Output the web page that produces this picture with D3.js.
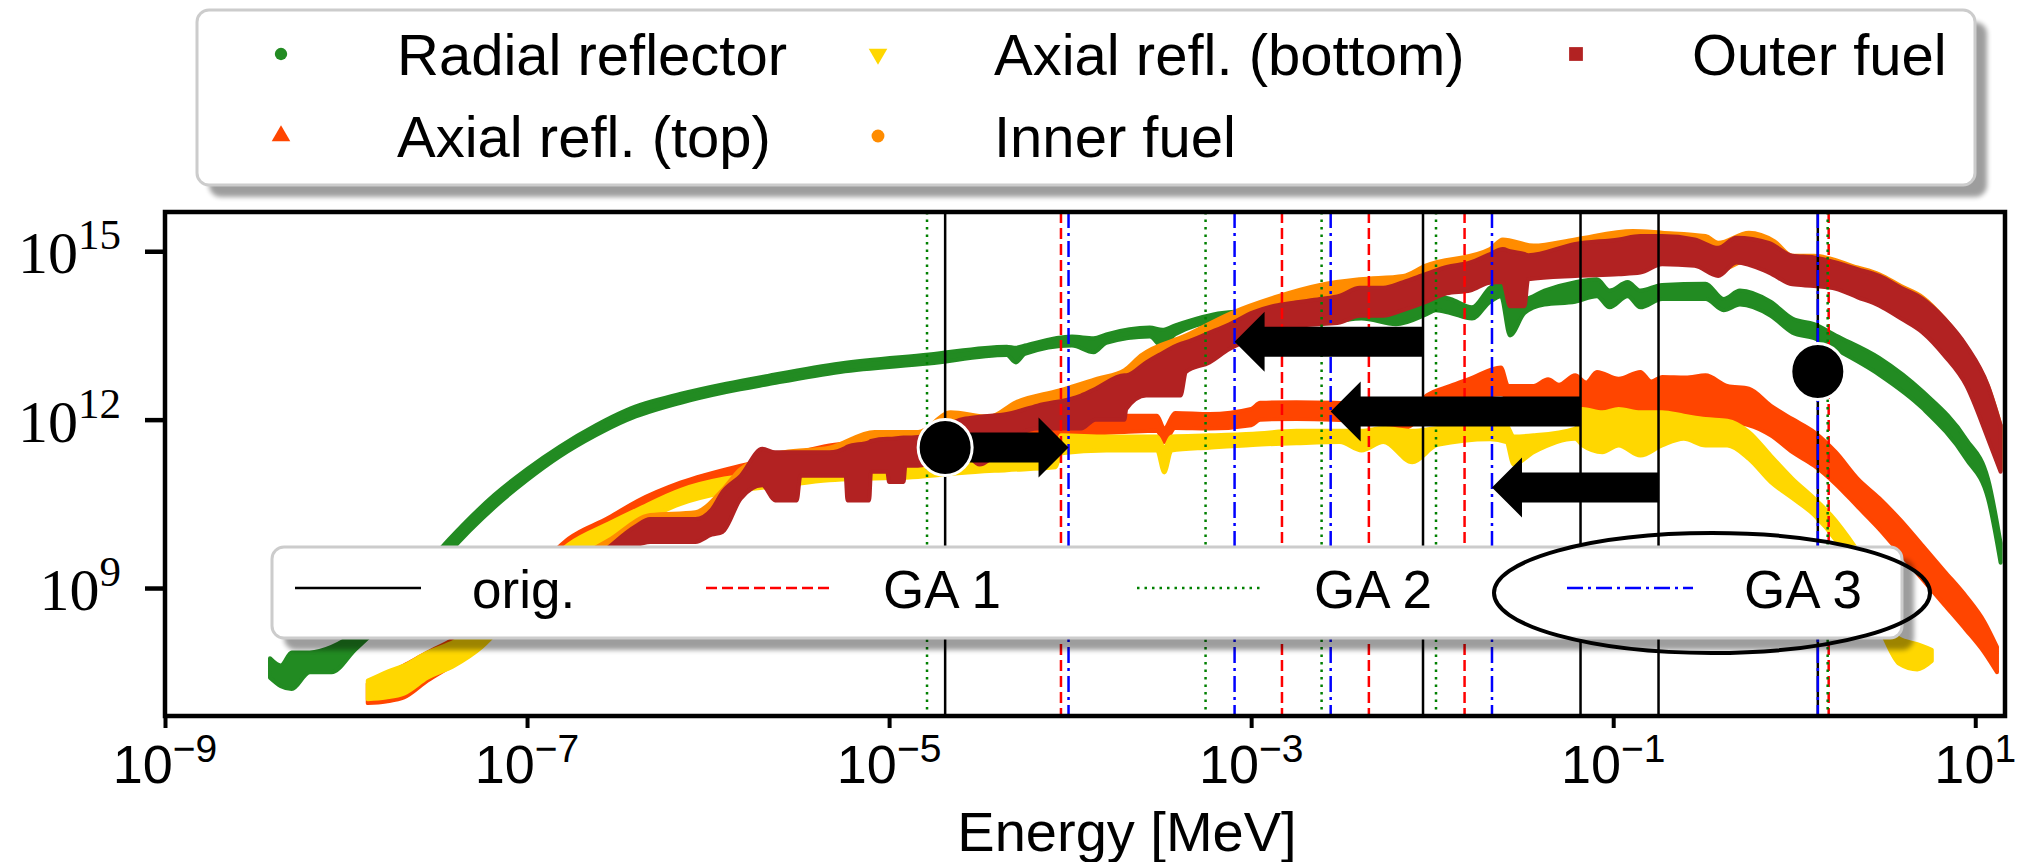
<!DOCTYPE html>
<html>
<head>
<meta charset="utf-8">
<script src="https://cdn.jsdelivr.net/npm/d3@7"></script>
<style>
  html, body { margin: 0; padding: 0; background: #ffffff; }
  svg { display: block; }
</style>
</head>
<body>
<svg id="chart" width="2040" height="862"></svg>
<script>
// ---------------- DATA ----------------
// Each series: [log10(E / MeV), log10(upper flux), log10(lower flux)] — the envelope of the dense scatter band
const radialReflector = [
  [-8.42, 7.75, 7.40], [-8.36, 7.62, 7.25], [-8.30, 7.85, 7.20], [-8.20, 7.85, 7.50],
  [-8.08, 7.95, 7.50], [-7.95, 8.20, 7.90], [-7.80, 8.65, 8.35], [-7.60, 9.25, 8.95],
  [-7.43, 9.87, 9.63], [-7.18, 10.66, 10.44], [-7.00, 11.12, 10.92], [-6.82, 11.52, 11.34],
  [-6.62, 11.90, 11.72], [-6.45, 12.17, 11.99], [-6.15, 12.46, 12.30], [-5.90, 12.64, 12.49],
  [-5.67, 12.78, 12.63], [-5.27, 13.00, 12.85], [-4.78, 13.16, 13.00], [-4.35, 13.30, 13.15],
  [-4.30, 13.28, 13.02], [-4.25, 13.32, 13.17], [-3.99, 13.48, 13.32], [-3.87, 13.45, 13.20],
  [-3.80, 13.52, 13.37], [-3.56, 13.64, 13.48], [-3.49, 13.60, 13.30], [-3.42, 13.68, 13.52],
  [-3.16, 13.90, 13.75], [-2.90, 13.95, 13.75], [-2.56, 13.98, 13.75], [-2.39, 14.00, 13.80],
  [-2.20, 13.98, 13.70], [-2.03, 14.12, 13.88], [-1.98, 14.20, 13.95], [-1.90, 14.15, 13.90],
  [-1.78, 14.00, 13.80], [-1.68, 14.35, 14.10], [-1.62, 14.45, 14.20], [-1.57, 14.30, 13.50],
  [-1.49, 14.15, 13.90], [-1.38, 14.30, 14.05], [-1.21, 14.45, 14.10], [-1.09, 14.50, 14.20],
  [-1.02, 14.30, 14.00], [-0.92, 14.45, 14.20], [-0.85, 14.30, 14.00], [-0.73, 14.40, 14.15],
  [-0.49, 14.42, 14.15], [-0.39, 14.15, 13.95], [-0.30, 14.30, 14.05], [-0.13, 14.10, 13.85],
  [-0.01, 13.80, 13.55], [0.11, 13.70, 13.45], [0.23, 13.50, 13.25], [0.47, 13.10, 12.80],
  [0.71, 12.50, 12.20], [0.95, 11.65, 11.30], [1.07, 10.95, 10.60], [1.14, 9.80, 9.45]
];
const axialTop = [
  [-7.88, 7.30, 6.95], [-7.78, 7.45, 6.98], [-7.68, 7.62, 7.05], [-7.55, 7.85, 7.35],
  [-7.40, 8.10, 7.65], [-7.25, 8.45, 8.00], [-7.10, 8.90, 8.50], [-6.90, 9.50, 9.15],
  [-6.77, 9.88, 9.58], [-6.55, 10.25, 9.98], [-6.39, 10.55, 10.28], [-6.15, 10.88, 10.58],
  [-5.82, 11.18, 10.85], [-5.58, 11.35, 11.00], [-5.33, 11.54, 11.20], [-5.08, 11.62, 11.30],
  [-4.84, 11.72, 11.40], [-4.60, 11.80, 11.50], [-4.35, 11.86, 11.58], [-4.08, 11.92, 11.62],
  [-4.05, 12.07, 11.75], [-3.94, 12.04, 11.75], [-3.70, 12.07, 11.78], [-3.52, 12.07, 11.80],
  [-3.48, 11.84, 11.60], [-3.42, 12.12, 11.85], [-3.23, 12.10, 11.84], [-3.00, 12.19, 11.90],
  [-2.95, 12.30, 12.00], [-2.75, 12.31, 12.01], [-2.55, 12.30, 12.00], [-2.30, 12.25, 11.95],
  [-2.16, 12.00, 11.84], [-2.03, 12.43, 12.13], [-1.90, 12.60, 12.30], [-1.79, 12.73, 12.37],
  [-1.62, 12.93, 12.45], [-1.58, 12.60, 12.40], [-1.44, 12.60, 12.30], [-1.36, 12.72, 12.28],
  [-1.30, 12.62, 12.25], [-1.21, 12.79, 12.20], [-1.15, 12.66, 12.18], [-1.09, 12.85, 12.13],
  [-0.97, 12.73, 12.13], [-0.85, 12.85, 12.13], [-0.79, 12.68, 12.13], [-0.73, 12.76, 12.13],
  [-0.60, 12.75, 12.10], [-0.49, 12.79, 12.01], [-0.37, 12.60, 11.95], [-0.25, 12.55, 11.90],
  [-0.13, 12.25, 11.72], [-0.01, 12.01, 11.42], [0.11, 11.78, 11.18], [0.23, 11.42, 10.85],
  [0.35, 10.95, 10.45], [0.47, 10.60, 10.05], [0.59, 10.20, 9.60], [0.71, 9.75, 9.15],
  [0.83, 9.30, 8.70], [0.95, 8.85, 8.25], [1.05, 8.40, 7.85], [1.12, 7.95, 7.50]
];
const axialBottom = [
  [-7.88, 7.35, 7.02], [-7.78, 7.50, 7.05], [-7.68, 7.62, 7.12], [-7.55, 7.85, 7.40],
  [-7.40, 8.05, 7.62], [-7.25, 8.38, 7.95], [-7.10, 8.82, 8.45], [-6.90, 9.42, 9.10],
  [-6.77, 9.78, 9.50], [-6.55, 10.15, 9.90], [-6.39, 10.40, 10.15], [-6.15, 10.75, 10.50],
  [-5.91, 10.95, 10.70], [-5.60, 11.05, 10.82], [-5.33, 11.15, 10.92], [-5.08, 11.20, 10.95],
  [-4.84, 11.22, 10.98], [-4.60, 11.28, 11.05], [-4.35, 11.35, 11.10], [-4.08, 11.40, 11.15],
  [-4.05, 11.72, 11.40], [-3.80, 11.70, 11.45], [-3.52, 11.70, 11.45], [-3.48, 11.50, 11.06],
  [-3.44, 11.70, 11.45], [-3.23, 11.72, 11.50], [-2.99, 11.75, 11.55], [-2.75, 11.80, 11.58],
  [-2.51, 11.80, 11.60], [-2.39, 11.80, 11.45], [-2.27, 11.85, 11.60], [-2.11, 11.80, 11.24],
  [-1.97, 11.85, 11.55], [-1.68, 11.90, 11.65], [-1.59, 11.90, 11.60], [-1.55, 11.70, 11.20],
  [-1.44, 11.72, 11.42], [-1.21, 11.84, 11.66], [-1.17, 12.19, 11.54], [-1.06, 12.13, 11.42],
  [-0.97, 12.19, 11.54], [-0.85, 12.13, 11.36], [-0.73, 12.13, 11.54], [-0.61, 12.07, 11.66],
  [-0.49, 12.01, 11.54], [-0.37, 11.98, 11.54], [-0.25, 11.78, 11.30], [-0.13, 11.36, 10.89],
  [-0.01, 10.95, 10.60], [0.11, 10.60, 10.30], [0.23, 10.20, 9.85], [0.30, 9.90, 9.50],
  [0.40, 9.40, 8.90], [0.50, 8.65, 8.10], [0.58, 8.10, 7.65], [0.68, 8.00, 7.55],
  [0.76, 7.90, 7.70]
];
const innerFuel = [
  [-7.10, 8.85, 8.45], [-6.80, 9.40, 9.05], [-6.55, 9.85, 9.50], [-6.32, 10.30, 9.95],
  [-6.07, 10.35, 10.00], [-5.92, 10.75, 10.35], [-5.82, 11.12, 10.70], [-5.58, 11.42, 11.00],
  [-5.33, 11.50, 11.10], [-5.08, 11.78, 11.30], [-4.84, 11.78, 11.35], [-4.66, 12.13, 11.70],
  [-4.45, 12.05, 11.65], [-4.30, 12.31, 11.90], [-4.06, 12.52, 12.10], [-3.85, 12.73, 12.30],
  [-3.70, 12.88, 12.45], [-3.61, 13.14, 12.70], [-3.36, 13.50, 13.05], [-3.11, 13.90, 13.45],
  [-2.87, 14.18, 13.70], [-2.62, 14.40, 13.90], [-2.40, 14.50, 14.00], [-2.16, 14.56, 14.05],
  [-2.04, 14.74, 14.25], [-1.68, 15.04, 14.55], [-1.61, 15.21, 14.70], [-1.44, 15.10, 14.60],
  [-1.21, 15.21, 14.70], [-0.89, 15.36, 14.80], [-0.73, 15.33, 14.85], [-0.49, 15.27, 14.80],
  [-0.42, 15.15, 14.65], [-0.25, 15.33, 14.85], [-0.11, 15.18, 14.70], [-0.01, 14.92, 14.45],
  [0.11, 14.92, 14.45], [0.35, 14.71, 14.20], [0.47, 14.59, 14.05], [0.59, 14.38, 13.85],
  [0.71, 14.18, 13.60], [0.83, 13.80, 13.20], [0.95, 13.30, 12.65], [1.07, 12.60, 11.70],
  [1.14, 11.90, 11.10]
];
const outerFuel = [
  [-7.00, 8.90, 8.50], [-6.60, 9.60, 9.20], [-6.40, 10.10, 9.75], [-6.32, 10.23, 9.82],
  [-6.07, 10.23, 9.82], [-5.98, 10.40, 9.95], [-5.92, 10.71, 10.00], [-5.82, 11.00, 10.59],
  [-5.70, 11.48, 10.83], [-5.63, 11.42, 10.56], [-5.51, 11.42, 10.56], [-5.49, 11.42, 11.00],
  [-5.33, 11.42, 11.00], [-5.24, 11.50, 11.00], [-5.23, 11.52, 10.56], [-5.11, 11.60, 10.56],
  [-5.10, 11.62, 11.07], [-5.01, 11.66, 11.07], [-5.00, 11.66, 10.89], [-4.92, 11.68, 10.89],
  [-4.91, 11.68, 11.18], [-4.84, 11.69, 11.18], [-4.59, 12.01, 11.42], [-4.50, 12.05, 11.20],
  [-4.35, 12.10, 11.60], [-4.18, 12.25, 11.84], [-3.94, 12.43, 11.84], [-3.86, 12.55, 12.00],
  [-3.70, 12.79, 12.00], [-3.69, 12.79, 12.19], [-3.58, 13.02, 12.43], [-3.51, 13.15, 12.43],
  [-3.39, 13.35, 12.43], [-3.36, 13.38, 12.85], [-3.23, 13.55, 13.02], [-3.12, 13.70, 13.26],
  [-2.99, 13.91, 13.44], [-2.87, 14.03, 13.55], [-2.75, 14.09, 13.67], [-2.62, 14.15, 13.70],
  [-2.51, 14.21, 13.73], [-2.40, 14.35, 13.85], [-2.27, 14.35, 13.85], [-2.16, 14.45, 13.95],
  [-2.03, 14.60, 14.10], [-1.92, 14.72, 14.25], [-1.79, 14.80, 14.30], [-1.68, 14.95, 14.44],
  [-1.61, 15.04, 14.45], [-1.57, 15.00, 14.02], [-1.49, 14.95, 14.02], [-1.47, 14.93, 14.50],
  [-1.21, 15.13, 14.56], [-0.97, 15.21, 14.59], [-0.85, 15.27, 14.62], [-0.73, 15.27, 14.77],
  [-0.55, 15.21, 14.74], [-0.42, 15.06, 14.56], [-0.32, 15.24, 14.80], [-0.14, 15.15, 14.62],
  [-0.01, 14.92, 14.41], [0.11, 14.89, 14.38], [0.23, 14.80, 14.33], [0.35, 14.68, 14.18],
  [0.47, 14.56, 14.03], [0.59, 14.35, 13.80], [0.71, 14.15, 13.55], [0.83, 13.80, 13.14],
  [0.95, 13.32, 12.61], [1.07, 12.61, 11.66], [1.14, 11.90, 11.07]
];

const seriesNames  = ["Radial reflector", "Axial refl. (top)", "Axial refl. (bottom)", "Inner fuel", "Outer fuel"];
const seriesColors = ["#228b22", "#ff4500", "#ffd700", "#ff8c00", "#b22222"];
const seriesData   = [radialReflector, axialTop, axialBottom, innerFuel, outerFuel];

// group boundaries (MeV)
const origBounds = [2.04e-5, 8.9e-3, 6.6e-2, 1.78e-1, 1.35];
const ga1Bounds  = [8.9e-5, 1.48e-3, 4.47e-3, 1.51e-2, 1.55];
const ga2Bounds  = [1.62e-5, 5.6e-4, 2.45e-3, 1.05e-2, 1.53];
const ga3Bounds  = [9.8e-5, 8.1e-4, 2.75e-3, 2.14e-2, 1.35];
const boundNames = ["orig.", "GA 1", "GA 2", "GA 3"];

// annotation arrows: orig boundary -> GA 3 boundary, at a flux level
const arrowFrom = [2.04e-5, 8.9e-3, 6.6e-2, 1.78e-1];
const arrowTo   = [9.8e-5, 8.1e-4, 2.75e-3, 2.14e-2];
const arrowFlux = [3.2e11, 2.45e13, 1.4e12, 6.2e10];
const circleE    = [2.04e-5, 1.35];
const circleFlux = [3.2e11, 7.2e12];

const xTicks = [1e-9, 1e-7, 1e-5, 1e-3, 1e-1, 1e1];
const yTicks = [1e9, 1e12, 1e15];
const xDomain = [1e-9, 14.6];
const yDomain = [5.25e6, 5.0e15];

// ---------------- LAYOUT ----------------
const plot = { left: 165, right: 2005, top: 212, bottom: 716 };
const svg = d3.select("#chart");
const sans = "'Liberation Sans', Arial, sans-serif";
const serif = "'Liberation Serif', 'Times New Roman', serif";

const x = d3.scaleLog().domain(xDomain).range([plot.left, plot.right]);
const y = d3.scaleLog().domain(yDomain).range([plot.bottom, plot.top]);

const defs = svg.append("defs");
defs.append("clipPath").attr("id", "plotClip").append("rect")
  .attr("x", plot.left).attr("y", plot.top)
  .attr("width", plot.right - plot.left).attr("height", plot.bottom - plot.top);
const f = defs.append("filter").attr("id", "shadowBlur")
  .attr("x", "-5%").attr("y", "-20%").attr("width", "110%").attr("height", "140%");
f.append("feGaussianBlur").attr("stdDeviation", 2.5);

// ---------------- DATA BANDS ----------------
const gData = svg.append("g").attr("clip-path", "url(#plotClip)");
const band = d3.area()
  .curve(d3.curveMonotoneX)
  .x(d => x(Math.pow(10, d[0])))
  .y0(d => y(Math.pow(10, d[2])))
  .y1(d => y(Math.pow(10, d[1])));

seriesData.forEach((data, i) => {
  gData.append("path")
    .attr("d", band(data))
    .attr("fill", seriesColors[i])
    .attr("stroke", seriesColors[i])
    .attr("stroke-width", 4)
    .attr("stroke-linejoin", "round");
});

// ---------------- VERTICAL BOUNDARY LINES ----------------
const lineStyles = [
  { color: "#000000", dash: null },
  { color: "#ff0000", dash: "11,5" },
  { color: "#008000", dash: "2.5,5" },
  { color: "#0000ff", dash: "16,5,3,5" }
];
const boundSets = [origBounds, ga1Bounds, ga2Bounds, ga3Bounds];
const gLines = svg.append("g");
boundSets.forEach((set, i) => {
  gLines.selectAll(null).data(set).enter().append("line")
    .attr("x1", d => x(d)).attr("x2", d => x(d))
    .attr("y1", plot.top).attr("y2", plot.bottom)
    .attr("stroke", lineStyles[i].color)
    .attr("stroke-width", 2.5)
    .attr("stroke-dasharray", lineStyles[i].dash);
});

// ---------------- AXES ----------------
const xAxis = d3.axisBottom(x).tickValues(xTicks).tickSize(12).tickFormat("");
const gx = svg.append("g").attr("transform", `translate(0,${plot.bottom})`).call(xAxis);
gx.select(".domain").remove();
gx.selectAll(".tick line").attr("stroke", "#000").attr("stroke-width", 4);

const yAxis = d3.axisLeft(y).tickValues(yTicks).tickSize(20).tickFormat("");
const gy = svg.append("g").attr("transform", `translate(${plot.left},0)`).call(yAxis);
gy.select(".domain").remove();
gy.selectAll(".tick line").attr("stroke", "#000").attr("stroke-width", 4.5);

// tick labels with superscripts
xTicks.forEach(v => {
  const t = svg.append("text")
    .attr("x", x(v)).attr("y", 783)
    .attr("text-anchor", "middle")
    .attr("font-family", sans).attr("font-size", 54).attr("fill", "#000");
  t.append("tspan").text("10");
  t.append("tspan").attr("dy", -21).attr("font-size", 39)
    .text(String(Math.round(Math.log10(v))).replace("-", "\u2212"));
});
yTicks.forEach(v => {
  const t = svg.append("text")
    .attr("x", 121).attr("y", y(v) + 22)
    .attr("text-anchor", "end")
    .attr("font-family", serif).attr("font-size", 60).attr("fill", "#000");
  t.append("tspan").text("10");
  t.append("tspan").attr("dy", -24).attr("font-size", 43)
    .text(String(Math.round(Math.log10(v))));
});

svg.append("text")
  .attr("x", 1127).attr("y", 851)
  .attr("text-anchor", "middle")
  .attr("font-family", sans).attr("font-size", 56).attr("fill", "#000")
  .text("Energy [MeV]");

// frame
svg.append("rect")
  .attr("x", plot.left).attr("y", plot.top)
  .attr("width", plot.right - plot.left).attr("height", plot.bottom - plot.top)
  .attr("fill", "none").attr("stroke", "#000").attr("stroke-width", 4.5);

// ---------------- LEGENDS ----------------
function legendFrame(x0, y0, w, h) {
  svg.append("rect")
    .attr("x", x0 + 12).attr("y", y0 + 12).attr("width", w).attr("height", h)
    .attr("rx", 12).attr("fill", "#000").attr("opacity", 0.38)
    .attr("filter", "url(#shadowBlur)");
  svg.append("rect")
    .attr("x", x0).attr("y", y0).attr("width", w).attr("height", h)
    .attr("rx", 12).attr("fill", "#ffffff")
    .attr("stroke", "#cccccc").attr("stroke-width", 3);
}

// series legend (3 columns, filled column-wise)
legendFrame(197, 10, 1778, 175);
const legMarkerX = [281, 878, 1576];
const legRowY = [54, 136];
const symbolTypes = [d3.symbolCircle, d3.symbolTriangle, d3.symbolTriangle, d3.symbolCircle, d3.symbolSquare];
const symbolSizes = [120, 150, 150, 130, 190];
const symbolRot = [0, 0, 180, 0, 0];
seriesNames.forEach((name, i) => {
  const col = Math.floor(i / 2), row = i % 2;
  const mx = legMarkerX[col], my = legRowY[row];
  svg.append("path")
    .attr("d", d3.symbol().type(symbolTypes[i]).size(symbolSizes[i])())
    .attr("transform", `translate(${mx},${my}) rotate(${symbolRot[i]})`)
    .attr("fill", seriesColors[i]);
  svg.append("text")
    .attr("x", mx + 116).attr("y", my + 21)
    .attr("font-family", sans).attr("font-size", 58).attr("fill", "#000")
    .text(name);
});

// boundary legend
legendFrame(272, 547, 1630, 91);
const bLegX = [295, 706, 1137, 1567];
boundNames.forEach((name, i) => {
  svg.append("line")
    .attr("x1", bLegX[i]).attr("x2", bLegX[i] + 126)
    .attr("y1", 588).attr("y2", 588)
    .attr("stroke", lineStyles[i].color).attr("stroke-width", 2.5)
    .attr("stroke-dasharray", lineStyles[i].dash);
  svg.append("text")
    .attr("x", bLegX[i] + 177).attr("y", 608)
    .attr("font-family", sans).attr("font-size", 53).attr("fill", "#000")
    .text(name);
});

// ---------------- ANNOTATIONS ----------------
const gAnn = svg.append("g");
arrowFrom.forEach((e0, i) => {
  const x0 = x(e0), x1 = x(arrowTo[i]), yc = y(arrowFlux[i]);
  const dir = Math.sign(x1 - x0);
  const headLen = 30, shaftH = 15, headH = 30;
  const xb = x1 - dir * headLen;
  const pts = [
    [x0, yc - shaftH], [xb, yc - shaftH], [xb, yc - headH], [x1, yc],
    [xb, yc + headH], [xb, yc + shaftH], [x0, yc + shaftH]
  ];
  gAnn.append("path").attr("d", d3.line()(pts) + "Z").attr("fill", "#000");
});
circleE.forEach((e, i) => {
  gAnn.append("ellipse")
    .attr("cx", x(e)).attr("cy", y(circleFlux[i]))
    .attr("rx", 27).attr("ry", 28)
    .attr("fill", "#000").attr("stroke", "#fff").attr("stroke-width", 3);
});
// ellipse highlighting the GA 3 legend entry
gAnn.append("ellipse")
  .attr("cx", 1712).attr("cy", 593).attr("rx", 218).attr("ry", 60)
  .attr("fill", "none").attr("stroke", "#000").attr("stroke-width", 4);
</script>
</body>
</html>
